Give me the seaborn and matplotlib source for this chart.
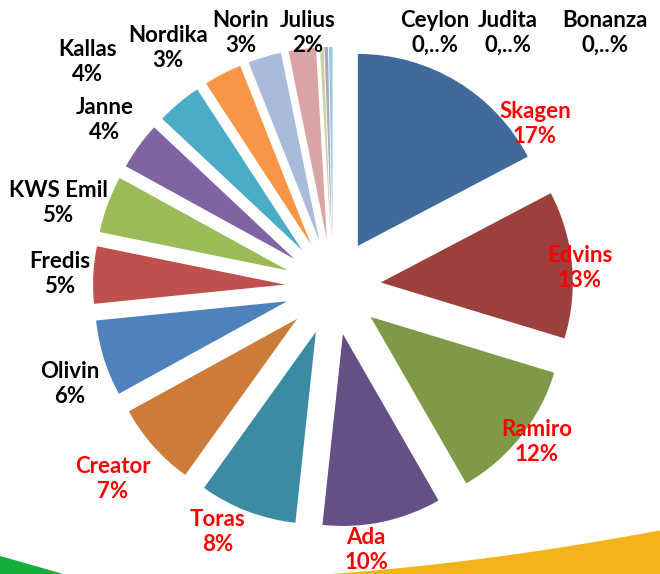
import matplotlib
matplotlib.use("Agg")
import matplotlib.pyplot as plt
import seaborn as sns
from matplotlib.patches import Polygon
import numpy as np

# ---- data ----
varieties = ["Skagen", "Edvins", "Ramiro", "Ada", "Toras", "Creator", "Olivin",
             "Fredis", "KWS Emil", "Janne", "Kallas", "Nordika", "Norin",
             "Julius", "Ceylon", "Judita", "Bonanza"]
shares = [17.3, 12.4, 12.0, 10.0, 8.2, 7.1, 6.4, 4.8, 4.8, 4.0, 3.8, 3.2,
          2.8, 2.3, 0.3, 0.3, 0.3]
pct_labels = ["17%", "13%", "12%", "10%", "8%", "7%", "6%", "5%", "5%", "4%",
              "4%", "3%", "3%", "2%", "0,..%", "0,..%", "0,..%"]

# ---- style ----
slice_colors = ["#3F6A99", "#9C403D", "#7E9A48", "#664F86", "#3B8CA3",
                "#CD7B38", "#4F81BD", "#C0504D", "#9BBB59", "#8064A2",
                "#4BACC6", "#F79646", "#A9BADA", "#D9A5A4", "#C3D69B",
                "#B3A2C7", "#93CDDD"]
label_colors = ["red"] * 6 + ["black"] * 11
# label centres in pixels (x from left, y from top)
label_pos = [(535, 124), (580, 268), (537, 442), (366, 550), (218, 532),
             (113, 479), (70, 384), (60, 274), (58, 203), (105, 120),
             (88, 62), (168, 48), (241, 33), (308, 33), (435, 33),
             (508, 33), (605, 33)]

sns.set_theme(style="white")
plt.rcParams["font.family"] = ["Lato", "DejaVu Sans"]

W, H = 660, 574
fig = plt.figure(figsize=(W / 100, H / 100), dpi=100)
fig.patch.set_facecolor("white")

# background swooshes
bg = fig.add_axes([0, 0, 1, 1])
bg.set_xlim(0, W)
bg.set_ylim(H, 0)
bg.axis("off")
t = np.linspace(0, 1, 60)
# green swoosh bottom-left
gx = (1 - t) ** 2 * 0 + 2 * (1 - t) * t * 25 + t ** 2 * 70
gy = (1 - t) ** 2 * 556 + 2 * (1 - t) * t * 563 + t ** 2 * 576
bg.add_patch(Polygon(np.column_stack([np.r_[gx, 0], np.r_[gy, 576]]),
                     closed=True, facecolor="#14AE3A", edgecolor="none"))
# yellow swoosh bottom-right
yx = (1 - t) ** 2 * 662 + 2 * (1 - t) * t * 470 + t ** 2 * 300
yy = (1 - t) ** 2 * 530 + 2 * (1 - t) * t * 566 + t ** 2 * 576
bg.add_patch(Polygon(np.column_stack([np.r_[yx, 662], np.r_[yy, 576]]),
                     closed=True, facecolor="#F4B31B", edgecolor="none"))

# pie
ax = fig.add_axes([0, 0, 1, 1])
ax.patch.set_alpha(0)
scale = 192.0
cx, cy = 333.0, 287.0
ax.pie(shares, explode=[0.25] * len(shares), colors=slice_colors,
       startangle=90, counterclock=False, radius=1,
       wedgeprops=dict(linewidth=0))
ax.set_xlim(-cx / scale, (W - cx) / scale)
ax.set_ylim(-(H - cy) / scale, cy / scale)
ax.set_aspect("auto")
ax.axis("off")

for name, pct, col, (px, py) in zip(varieties, pct_labels, label_colors, label_pos):
    fig.text(px / W, 1 - py / H, f"{name}\n{pct}", ha="center", va="center",
             color=col, fontsize=16, fontweight="bold", linespacing=1.2)

fig.savefig("out.png", dpi=100)
